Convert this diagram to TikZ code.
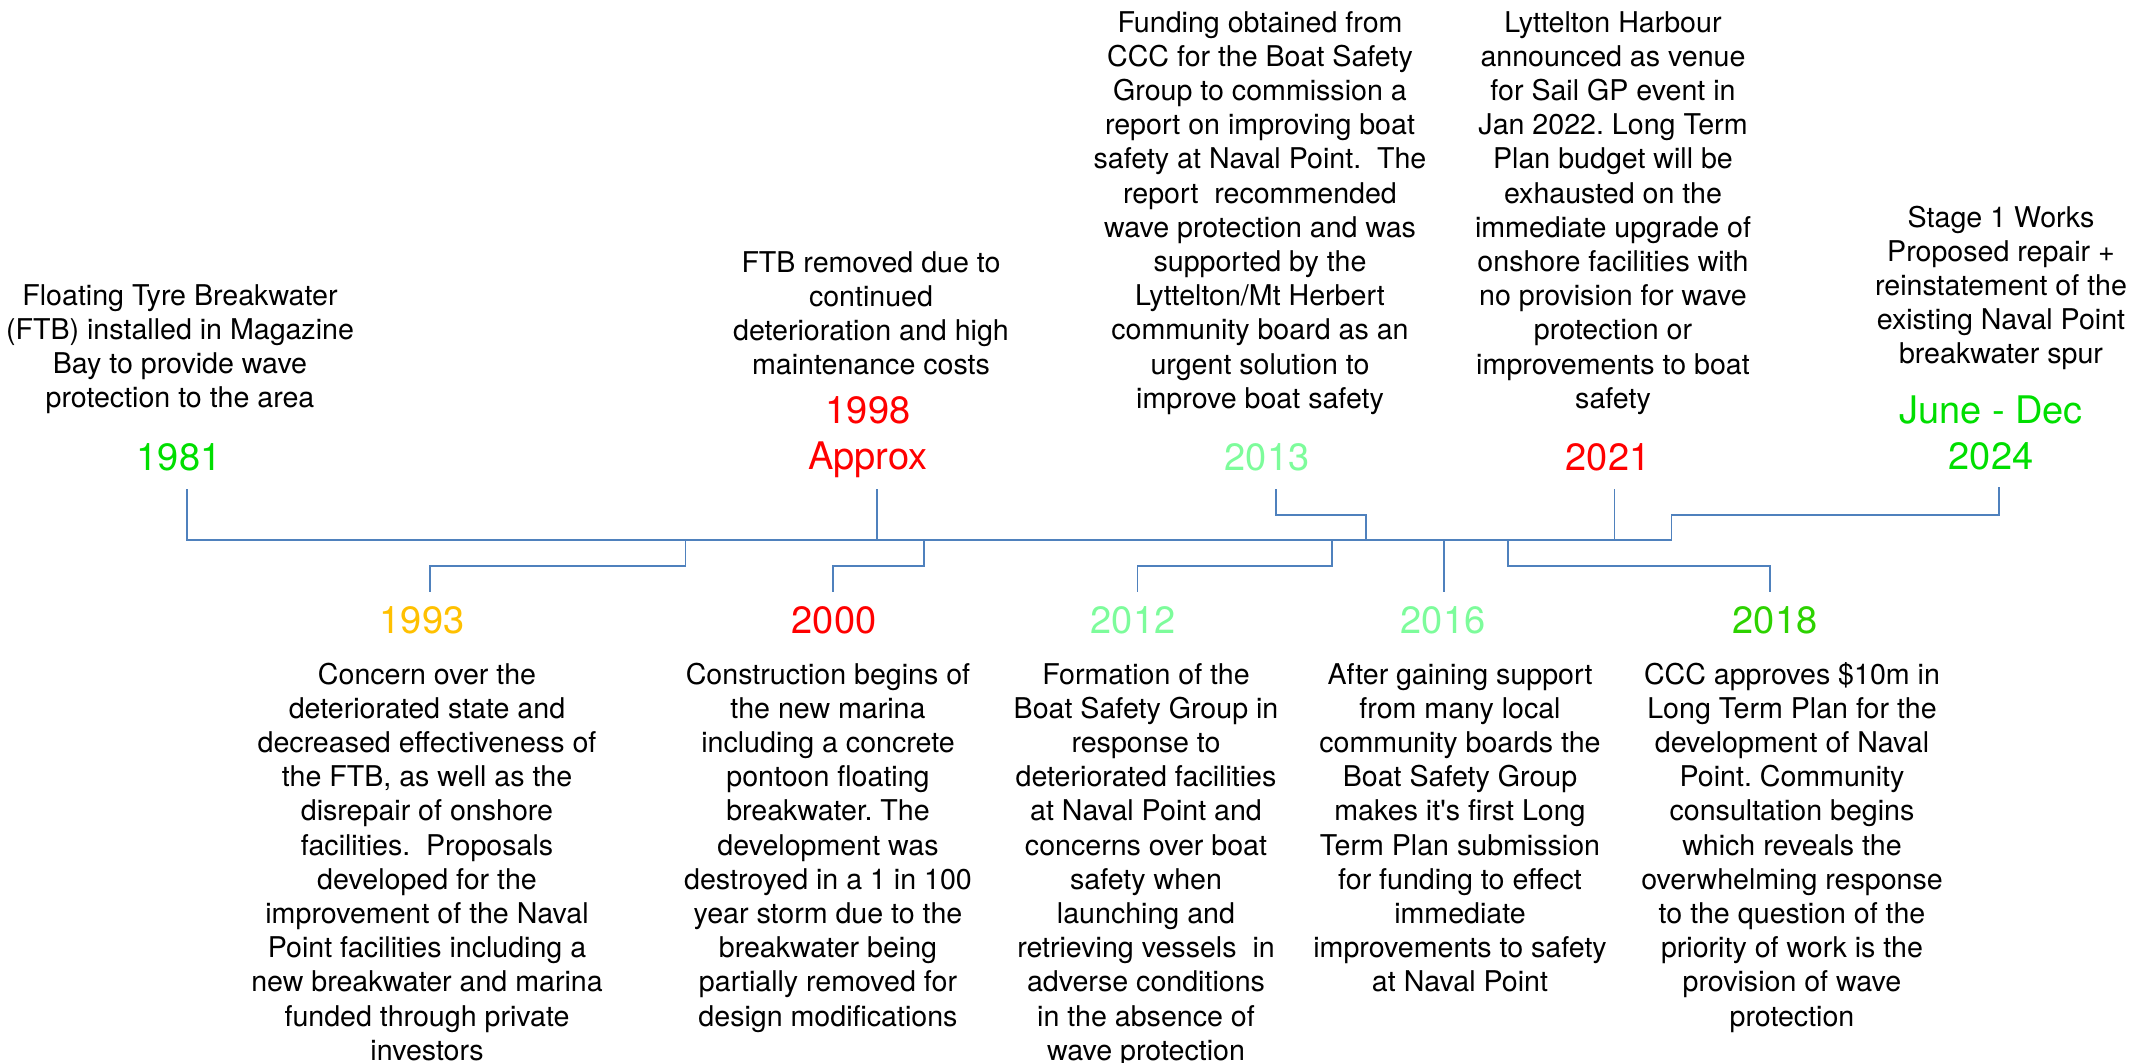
\documentclass[tikz,border=0pt]{standalone}
\usepackage{fontspec}
\setmainfont{TeX Gyre Heros}[Ligatures=TeXOff]
\usepackage{tikz}
\frenchspacing

\definecolor{lineblue}{RGB}{79,129,189}
\definecolor{brightgreen}{RGB}{0,222,0}
\definecolor{gold}{RGB}{255,192,0}
\definecolor{mint}{RGB}{125,252,155}
\definecolor{leafgreen}{RGB}{45,210,0}

\begin{document}
\begin{tikzpicture}[x=0.5pt, y=-0.5pt,
	year/.style={font=\fontsize{19}{23}\selectfont, inner sep=0pt, anchor=base, align=center},
	event/.style={font=\fontsize{14.3}{17.1}\selectfont, inner sep=0pt, anchor=base, align=center},
	tick/.style={draw=lineblue, line width=0.9pt}]
	
	\useasboundingbox (0,0) rectangle (2147,1062);
	
	% years above the line (base = last line)
	\node[year, text=brightgreen] (y1981) at (179,470) {1981};
	\node[year, text=red] (y1998) at (868,469) {1998\\Approx};
	\node[year, text=mint] (y2013) at (1267,470) {2013};
	\node[year, text=red] (y2021) at (1608,470) {2021};
	\node[year, text=brightgreen] (y2024) at (1991,469) {June - Dec\\2024};
	
	% years below the line
	\node[year, text=gold] (y1993) at (422,633) {1993};
	\node[year, text=red] (y2000) at (834,633) {2000};
	\node[year, text=mint] (y2012) at (1133,633) {2012};
	\node[year, text=mint] (y2016) at (1443,633) {2016};
	\node[year, text=leafgreen] (y2018) at (1775,633) {2018};
	
	% events above
	\node[event] (e1981) at (180,407.6) {Floating Tyre Breakwater\\(FTB) installed in Magazine\\Bay to provide wave\\protection to the area};
	\node[event] (e1998) at (871,374.6) {FTB removed due to\\continued\\deterioration and high\\maintenance costs};
	\node[event] (e2013) at (1260,408.2) {Funding obtained from\\CCC for the Boat Safety\\Group to commission a\\report on improving boat\\safety at Naval Point.~ The\\report~ recommended\\wave protection and was\\supported by the\\Lyttelton/Mt Herbert\\community board as an\\urgent solution to\\improve boat safety};
	\node[event] (e2021) at (1613,408.2) {Lyttelton Harbour\\announced as venue\\for Sail GP event in\\Jan 2022. Long Term\\Plan budget will be\\exhausted on the\\immediate upgrade of\\onshore facilities with\\no provision for wave\\protection or\\improvements to boat\\safety};
	\node[event] (e2024) at (2001,363.8) {Stage 1 Works\\Proposed repair +\\reinstatement of the\\existing Naval Point\\breakwater spur};
	
	% events below
	\node[event] (e1993) at (427,1060.2) {Concern over the\\deteriorated state and\\decreased effectiveness of\\the FTB, as well as the\\disrepair of onshore\\facilities.~ Proposals\\developed for the\\improvement of the Naval\\Point facilities including a\\new breakwater and marina\\funded through private\\investors};
	\node[event] (e2000) at (828,1026) {Construction begins of\\the new marina\\including a concrete\\pontoon floating\\breakwater. The\\development was\\destroyed in a 1 in 100\\year storm due to the\\breakwater being\\partially removed for\\design modifications};
	\node[event] (e2012) at (1146,1060.2) {Formation of the\\Boat Safety Group in\\response to\\deteriorated facilities\\at Naval Point and\\concerns over boat\\safety when\\launching and\\retrieving vessels~ in\\adverse conditions\\in the absence of\\wave protection};
	\node[event] (e2016) at (1460,991.8) {After gaining support\\from many local\\community boards the\\Boat Safety Group\\makes it's first Long\\Term Plan submission\\for funding to effect\\immediate\\improvements to safety\\at Naval Point};
	\node[event] (e2018) at (1792,1026) {CCC approves \$10m in\\Long Term Plan for the\\development of Naval\\Point. Community\\consultation begins\\which reveals the\\overwhelming response\\to the question of the\\priority of work is the\\provision of wave\\protection};
	
	% tick ends and joints on the line
	\coordinate (t1981) at (186.6,489);
	\coordinate (t1998) at (877,489);
	\coordinate (t2013) at (1275.8,489);
	\coordinate (t2021) at (1614.5,489);
	\coordinate (t2024) at (1999,487);
	\coordinate (t1993) at (430,592);
	\coordinate (t2000) at (833,592);
	\coordinate (t2012) at (1137.5,592);
	\coordinate (t2016) at (1444,592);
	\coordinate (t2018) at (1770,592);
	\coordinate (a1998) at (877,540);
	\coordinate (a2013) at (1365.8,540);
	\coordinate (a2021) at (1614.5,540);
	\coordinate (a1993) at (685.4,540);
	\coordinate (a2000) at (924,540);
	\coordinate (a2012) at (1332,540);
	\coordinate (a2016) at (1444,540);
	\coordinate (a2018) at (1508,540);
	\coordinate (aend) at (1671.5,540);
	
	\draw[tick] (t1981) |- (aend) -- ++(0,-25) -| (t2024);
	\draw[tick] (t1998) -- (a1998);
	\draw[tick] (t2021) -- (a2021);
	\draw[tick] (a2013) -- ++(0,-25) -| (t2013);
	\draw[tick] (a1993) -- ++(0,25.7) -| (t1993);
	\draw[tick] (a2000) -- ++(0,25.7) -| (t2000);
	\draw[tick] (a2012) -- ++(0,25.7) -| (t2012);
	\draw[tick] (a2016) -- (t2016);
	\draw[tick] (a2018) -- ++(0,25.7) -| (t2018);
\end{tikzpicture}
\end{document}
